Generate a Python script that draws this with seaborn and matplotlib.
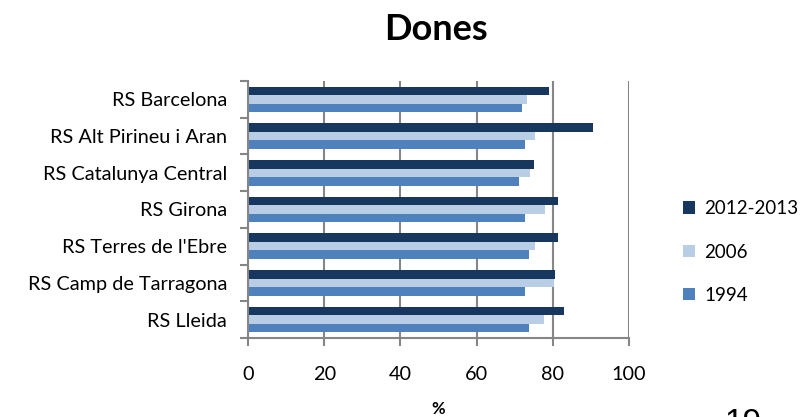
import numpy as np
import pandas as pd
import matplotlib
matplotlib.use("Agg")
import matplotlib.pyplot as plt
from matplotlib.patches import Patch
from matplotlib.ticker import FixedLocator
import seaborn as sns

regions = ["RS Barcelona", "RS Alt Pirineu i Aran", "RS Catalunya Central",
           "RS Girona", "RS Terres de l'Ebre", "RS Camp de Tarragona", "RS Lleida"]
periods = ["2012-2013", "2006", "1994"]
v_2012 = [79.1, 90.5, 75.0, 81.3, 81.3, 80.7, 83.0]
v_2006 = [73.2, 75.4, 74.1, 78.0, 75.4, 80.2, 77.6]
v_1994 = [71.9, 72.8, 71.0, 72.8, 73.7, 72.8, 73.7]
x_ticks = [0, 20, 40, 60, 80, 100]

colors = {"2012-2013": "#17375E", "2006": "#B9CDE5", "1994": "#4F81BD"}

df = pd.DataFrame({
    "region": regions * 3,
    "period": [p for p in periods for _ in regions],
    "value": v_2012 + v_2006 + v_1994,
})

sns.set_theme(style="white")
plt.rcParams["font.family"] = ["Lato", "DejaVu Sans"]
plt.rcParams["text.color"] = "black"

fig = plt.figure(figsize=(8.03, 4.17), dpi=100)
ax = fig.add_axes([248 / 803, 1 - 338 / 417, (629 - 248) / 803, (338 - 81) / 417])

sns.barplot(data=df, y="region", x="value", hue="period", order=regions,
            hue_order=periods, palette=colors, orient="h", width=0.7,
            linewidth=0, saturation=1, legend=False, ax=ax)

ax.set_xlim(0, 100)
ax.set_ylim(len(regions) - 0.5, -0.5)
ax.set_xticks(x_ticks)
ax.set_xticklabels([str(t) for t in x_ticks])
ax.grid(axis="x", color="#868686", linewidth=1.5)
ax.set_axisbelow(True)

for side in ["top", "right"]:
    ax.spines[side].set_visible(False)
for side in ["left", "bottom"]:
    ax.spines[side].set_color("#868686")
    ax.spines[side].set_linewidth(1.5)

ax.yaxis.set_minor_locator(FixedLocator(np.arange(-0.5, len(regions), 1.0)))
ax.tick_params(axis="y", which="major", length=0, pad=15, labelsize=14.3,
               labelcolor="black")
ax.tick_params(axis="y", which="minor", left=True, length=6, width=1.5, color="#868686")
ax.tick_params(axis="x", which="major", bottom=True, length=6, width=1.5,
               color="#868686", pad=14, labelsize=14.3, labelcolor="black")

ax.set_ylabel("")
ax.set_xlabel("%", fontsize=12, fontweight="bold", labelpad=13, color="black")

fig.text(436 / 803, 1 - 30 / 417, "Dones", ha="center", va="center",
         fontsize=26, fontweight="bold", color="black")

handles = [Patch(facecolor=colors[p], edgecolor="none") for p in periods]
fig.legend(handles, periods, loc="center left",
           bbox_to_anchor=(683 / 803, 1 - 252 / 417), frameon=False,
           fontsize=13.5, handlelength=0.65, handleheight=0.65,
           handletextpad=0.5, labelspacing=1.4, borderpad=0, borderaxespad=0)

fig.text(725 / 803, 1 - 432 / 417, "19", ha="left", va="baseline",
         fontsize=24, family="Liberation Sans", color="black")

fig.savefig("out.png", dpi=100, facecolor="white")
